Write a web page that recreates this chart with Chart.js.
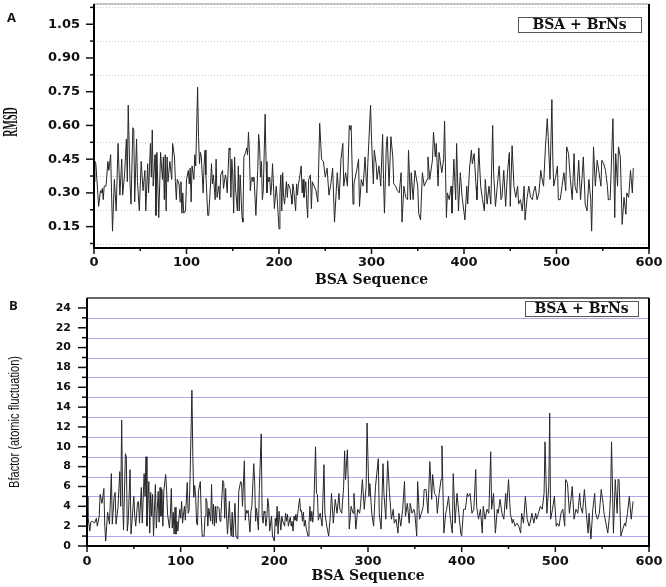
<!DOCTYPE html>
<html>
<head>
<meta charset="utf-8">
<script src="https://cdn.jsdelivr.net/npm/chart.js@4.4.0/dist/chart.umd.min.js"></script>
<style>
  body { margin: 0; background: #fff; width: 666px; height: 587px; position: relative; overflow: hidden; }
  canvas { position: absolute; left: 0; }
  #rmsd { top: 0; }
  #bfac { top: 290px; }
  .tag { position: absolute; z-index: 2; font: bold 13px "Open Sans", sans-serif; color: #111; line-height: 16px; }
</style>
</head>
<body>
<canvas id="rmsd" width="666" height="290"></canvas>
<canvas id="bfac" width="666" height="297"></canvas>
<div class="tag" style="left:7px;top:9px">A</div>
<div class="tag" style="left:9px;top:297px">B</div>
<script>
// values (residue number -> value)
const rmsdResidues = [
  0,1,2,5,7,8,9,10,11,13, 15,16,18,19,20,22,24,26,28,30,
  31,33,35,36,37,39,40,42,43,44, 46,47,49,51,53,55,56,58,59,61,
  62,63,64,66,67,68,70,72,74,75, 76,77,78,79,80,82,84,85,87,88,
  89,90,92,93,94,95,96,97,99,100, 102,103,104,105,106,108,109,110,112,113,
  114,115,116,118,119,120,121,123,124,126, 127,128,129,131,132,133,135,136,137,139,
  140,142,143,144,146,147,148,149,150,151, 152,153,155,156,157,158,160,161,162,164,
  165,166,167,168,169,170,171,172,173,175, 177,178,179,180,181,182,183,185,186,187,
  188,189,190,191,192,193,194,195,197,198, 200,201,202,203,204,205,206,207,208,209,
  210,212,213,214,215,216,218,219,220,221, 222,224,225,226,227,229,230,231,232,234,
  235,236,238,240,242,244,
  246,248,250,252,254,256,258,260,263,265, 267,269,270,272,274,276,277,278,280,281,
  284,286,287,289,291,293,295,296,299,300, 302,303,305,306,308,310,312,313,314,316,
  317,319,321,323,324,326,328,330,332,333, 335,337,339,340,342,343,345,347,350,351,
  353,355,357,360,361,363,366,367,369,370, 372,373,376,378,379,381,382,384,386,387,
  389,391,392,394,396,398,401,403,404,406, 408,409,411,413,414,416,418,420,422,423,
  425,427,429,431,432,434,436,438,440,441, 443,445,447,449,450,452,454,456,458,459,
  461,463,465,466,468,470,472,474,475,477, 479,481,483,484,486,488,490,491,493,495,
  496,497,499,501,502,504,506,508,510,511, 513,515,517,519,520,522,524,526,528,529,
  531,533,535,537,538,540,542,544,546,548, 549,551,553,555,556,558,561,563,564,566,
  567,569,571,573,575,576,578,580,582,583
];
const rmsdValues = [
  .35,.44,.43,.24,.31,.30,.32,.27,.33,.33, .44,.40,.47,.30,.13,.36,.22,.52,.29,.45,
  .29,.38,.54,.35,.69,.34,.25,.59,.58,.26, .54,.35,.22,.44,.31,.40,.22,.43,.30,.52,
  .37,.58,.33,.47,.20,.48,.19,.48,.36,.46, .27,.47,.22,.46,.35,.44,.36,.52,.46,.35,
  .27,.36,.34,.26,.35,.21,.30,.21,.22,.36, .40,.34,.41,.26,.42,.36,.47,.42,.77,.55,
  .43,.48,.46,.30,.42,.49,.38,.20,.20,.34, .43,.34,.38,.27,.45,.28,.33,.27,.38,.40,
  .32,.38,.36,.30,.50,.49,.28,.45,.38,.21, .46,.32,.22,.42,.22,.38,.19,.17,.46,.48,
  .50,.47,.57,.48,.31,.36,.37,.35,.37,.20, .40,.56,.51,.37,.44,.27,.31,.65,.44,.30,
  .37,.35,.37,.29,.33,.43,.34,.23,.33,.28, .14,.30,.38,.22,.39,.28,.25,.30,.35,.28,
  .34,.32,.29,.25,.34,.31,.22,.34,.29,.34, .36,.42,.30,.36,.28,.35,.25,.19,.36,.38,
  .23,.35,.33,.31,.26,.61,
  .45,.44,.37,.41,.29,.34,.41,.17,.39,.27, .45,.52,.33,.39,.33,.60,.58,.60,.25,.34,
  .40,.45,.24,.36,.33,.46,.30,.43,.69,.54, .34,.49,.43,.36,.42,.33,.56,.36,.21,.51,
  .55,.33,.55,.46,.34,.33,.31,.30,.39,.17, .33,.28,.27,.49,.27,.39,.27,.40,.33,.21,
  .18,.39,.33,.36,.46,.36,.45,.57,.46,.52, .33,.48,.39,.45,.62,.19,.30,.27,.33,.21,
  .45,.27,.52,.22,.39,.28,.18,.33,.25,.41, .49,.43,.475,.33,.27,.50,.33,.27,.22,.36,
  .25,.33,.25,.60,.39,.24,.33,.42,.27,.28, .40,.24,.39,.48,.24,.51,.33,.28,.33,.25,
  .27,.22,.33,.18,.27,.33,.28,.27,.30,.33, .27,.30,.40,.37,.33,.50,.63,.55,.36,.715,
  .45,.33,.37,.42,.27,.27,.33,.39,.31,.505, .475,.36,.27,.475,.33,.30,.445,.27,.39,.46,
  .25,.22,.36,.27,.13,.505,.33,.445,.39,.33, .445,.43,.40,.33,.27,.27,.63,.19,.475,.33,
  .505,.46,.16,.28,.205,.30,.28,.40,.30,.41
];

const bfResidues = [
  0,1,3,4,6,8,10,11,13,14, 16,18,19,20,22,24,26,27,29,30,
  31,33,35,36,37,38,39,41,42,43, 44,46,47,50,51,52,54,55,56,58,
  59,61,62,63,64,66,67,68,69,70, 71,73,74,76,77,78,79,80,81,82,
  84,85,86,88,89,90,91,92,93,94, 95,96,97,99,100,101,102,104,105,107,
  108,109,110,112,113,114,115,116,117,118, 119,121,122,123,125,126,127,128,129,130,
  132,133,134,135,136,137,138,139,141,142, 143,145,146,147,148,149,150,152,153,154,
  155,156,158,159,161,162,164,165,166,168, 169,170,171,172,174,175,176,178,179,180,
  181,183,184,186,187,188,189,190,191,192, 193,194,195,197,198,200,201,202,203,204,
  205,207,208,209,211,212,213,214,215,217, 218,219,220,221,222,223,224,225,227,228,
  229,230,231,232,233,234,236,237,238,239, 240,241,242,244,245,246,247,248,
  249,251,253,254,256,258,260,261,263,265, 267,269,270,272,274,275,276,278,279,280,
  282,284,285,287,289,291,292,294,296,298, 299,301,302,304,306,308,311,312,314,316,
  317,319,321,323,325,327,328,330,332,333, 335,337,339,340,342,344,345,347,349,350,
  352,353,355,357,359,360,362,364,366,368, 369,371,373,374,376,378,379,381,383,384,
  386,388,390,391,393,395,397,399,400,402, 404,406,407,409,411,413,415,416,418,420,
  422,423,425,427,429,431,432,434,436,438, 439,441,443,445,447,448,450,452,454,455,
  457,459,461,463,464,466,468,470,472,473, 475,477,479,480,482,484,486,488,489,491,
  493,494,495,497,499,501,502,504,506,508, 510,511,513,515,517,518,520,522,524,526,
  527,529,531,533,535,536,538,540,542,543, 545,547,549,551,552,554,556,558,559,560,
  562,564,566,567,568,570,572,574,575,577, 579,581,583
];
const bfValues = [
  5.0,3.0,1.5,2.4,2.5,2.3,2.8,2.0,3.0,5.2, 4.3,5.8,2.0,0.5,3.4,2.2,7.3,2.2,5.0,5.4,
  2.2,3.8,7.5,4.0,12.7,5.0,1.6,9.3,9.0,1.5, 2.5,7.7,1.2,5.0,3.0,2.0,4.4,4.5,2.3,5.9,
  2.3,7.3,5.0,9.0,2.0,6.5,1.3,5.4,3.0,5.2, 1.0,6.2,1.8,5.5,2.4,5.9,3.0,5.7,2.0,5.5,
  7.2,5.6,3.2,1.8,3.2,5.8,1.8,3.4,1.2,3.9, 1.2,2.5,1.5,3.7,2.8,4.5,2.3,4.0,2.6,6.4,
  3.3,3.6,6.7,15.7,9.0,4.9,6.1,5.0,2.3,2.1, 5.5,6.5,3.0,1.0,1.0,3.0,4.8,4.5,2.0,3.8,
  2.5,6.2,2.2,4.2,2.0,4.0,2.3,4.0,3.8,2.5, 3.2,6.6,6.4,2.8,5.8,3.0,1.2,4.5,2.0,1.0,
  3.4,0.9,4.3,1.0,0.7,5.5,6.5,6.4,4.0,8.6, 2.6,3.6,3.3,3.6,1.4,3.5,4.0,8.3,6.5,2.5,
  3.8,1.6,5.8,11.3,3.0,2.3,3.5,3.3,2.0,2.8, 4.8,4.0,1.5,3.0,1.0,0.5,2.8,2.0,4.0,1.2,
  3.5,1.6,3.0,2.5,2.0,3.3,2.5,3.2,2.0,2.9, 2.0,2.5,1.5,3.0,2.6,3.2,2.5,3.3,4.8,3.5,
  3.6,2.5,3.4,2.0,2.6,1.8,1.0,2.2,4.0,2.5, 3.5,2.4,3.5,10.0,5.3,5.2,2.6,3.0,
  3.3,2.0,8.2,3.3,2.0,1.0,3.3,5.3,2.3,4.7, 3.3,5.3,3.7,3.3,6.0,9.6,6.7,9.7,6.0,1.7,
  4.0,3.3,5.3,1.7,3.7,3.3,4.0,6.7,3.7,6.0, 12.4,5.0,6.3,3.3,2.0,6.0,8.8,3.3,1.7,8.3,
  5.3,2.7,8.6,5.3,2.7,3.7,2.3,2.7,1.3,3.3, 2.0,3.7,6.5,3.0,4.3,2.3,4.3,3.3,3.7,3.3,
  1.0,6.5,2.7,3.3,4.0,5.7,5.7,3.3,8.5,4.7, 7.2,5.3,5.0,3.3,5.3,6.7,10.1,1.3,3.3,3.7,
  5.0,2.7,1.3,7.3,2.3,5.3,3.3,1.3,1.0,3.7, 3.7,5.3,5.0,5.3,3.3,3.7,7.7,4.0,2.7,3.7,
  1.3,4.0,2.7,3.7,3.3,9.5,3.7,5.3,1.3,3.7, 3.3,4.7,3.3,2.7,5.3,3.7,6.7,3.3,2.3,2.7,
  2.0,2.3,2.0,1.3,3.3,2.3,5.0,2.7,2.0,2.3, 3.3,2.3,3.3,2.7,3.3,4.0,3.7,5.3,10.5,3.3,
  6.0,13.4,2.7,3.7,5.0,2.0,2.3,2.0,3.3,3.7, 2.0,6.7,6.3,3.3,5.0,6.0,2.7,3.7,3.3,5.3,
  4.0,3.3,5.7,3.3,1.3,3.3,0.7,3.7,5.3,3.3, 2.7,3.3,5.7,4.3,3.3,2.3,1.3,3.3,5.3,10.5,
  1.3,6.7,3.3,6.7,6.7,1.0,1.7,2.3,2.0,3.3, 5.0,2.7,4.5
];

const seqTicks = [0, 100, 200, 300, 400, 500, 600];
const seqMinor = [50, 150, 250, 350, 450, 550];
const rmsdTicks = [0.15, 0.30, 0.45, 0.60, 0.75, 0.90, 1.05];
const rmsdMinor = [0.075, 0.225, 0.375, 0.525, 0.675, 0.825, 0.975, 1.125];
const bfTicks = [0, 2, 4, 6, 8, 10, 12, 14, 16, 18, 20, 22, 24];
const bfMinor = [1, 3, 5, 7, 9, 11, 13, 15, 17, 19, 21, 23];
const seriesLabel = 'BSA + BrNs';

// grid lines, tick marks, frame, narrow y title and the boxed label
const framePlugin = {
  id: 'frame',
  beforeDatasetsDraw(chart, args, o) {
    const { ctx, chartArea: a, scales: { y } } = chart;
    ctx.save();
    ctx.strokeStyle = o.gridColor;
    ctx.lineWidth = 1;
    ctx.setLineDash(o.gridDash);
    o.grid.forEach(v => {
      const py = Math.round(y.getPixelForValue(v)) + 0.5;
      ctx.beginPath(); ctx.moveTo(a.left, py); ctx.lineTo(a.right, py); ctx.stroke();
    });
    ctx.restore();
  },
  afterDraw(chart, args, o) {
    const { ctx, chartArea: a, scales: { x, y } } = chart;
    ctx.save();
    ctx.strokeStyle = '#111';
    ctx.lineWidth = 1.5;
    const tick = (x1, y1, x2, y2) => { ctx.beginPath(); ctx.moveTo(x1, y1); ctx.lineTo(x2, y2); ctx.stroke(); };
    o.yMajor.forEach(v => { const p = y.getPixelForValue(v); tick(a.left - o.yMajorLen, p, a.left, p); });
    o.grid.forEach(v => { const p = y.getPixelForValue(v); tick(a.left - o.yMinorLen, p, a.left, p); });
    seqTicks.forEach(v => { const p = x.getPixelForValue(v); tick(p, a.bottom, p, a.bottom + 6); });
    seqMinor.forEach(v => { const p = x.getPixelForValue(v); tick(p, a.bottom, p, a.bottom + 3); });

    ctx.strokeStyle = o.topColor;
    ctx.lineWidth = o.topWidth;
    tick(a.left, a.top, a.right, a.top);
    ctx.strokeStyle = '#000';
    ctx.lineWidth = 2;
    ctx.beginPath();
    ctx.moveTo(a.left, a.top); ctx.lineTo(a.left, a.bottom);
    ctx.lineTo(a.right, a.bottom); ctx.lineTo(a.right, a.top);
    ctx.stroke();

    // y title, squeezed along its length like the original figure
    const t = o.title;
    ctx.save();
    ctx.translate(t.x, (a.top + a.bottom) / 2 + t.shift);
    ctx.rotate(-Math.PI / 2);
    ctx.scale(t.squeeze, 1);
    ctx.font = t.font;
    ctx.fillStyle = '#111';
    ctx.textAlign = 'center';
    ctx.textBaseline = 'middle';
    ctx.fillText(t.text, 0, 0);
    ctx.restore();

    // label box
    const b = o.box;
    const bx = a.right - b.right - b.w, by = a.top + b.top;
    ctx.fillStyle = '#fff';
    ctx.fillRect(bx, by, b.w, b.h);
    ctx.strokeStyle = '#555';
    ctx.lineWidth = 1;
    ctx.strokeRect(bx + 0.5, by + 0.5, b.w, b.h);
    ctx.fillStyle = '#111';
    ctx.font = 'bold 14px "DejaVu Serif", serif';
    ctx.textAlign = 'center';
    ctx.textBaseline = 'middle';
    ctx.fillText(chart.data.datasets[0].label, bx + b.w / 2, by + b.h / 2 + 1);
    ctx.restore();
  }
};

function makeChart(id, residues, values, c) {
  const tickFont = { family: 'DejaVu Sans', weight: 'bold', size: c.tickSize };
  return new Chart(document.getElementById(id), {
    type: 'line',
    data: {
      datasets: [{
        label: seriesLabel,
        data: residues.map((r, i) => ({ x: r, y: values[i] })),
        borderColor: '#262626',
        borderWidth: 1,
        pointRadius: 0,
        tension: 0
      }]
    },
    options: {
      responsive: false,
      animation: false,
      layout: { padding: { top: c.top, right: 17, left: 0, bottom: 0 } },
      plugins: {
        legend: { display: false },
        tooltip: { enabled: false },
        frame: c.frame
      },
      scales: {
        x: {
          type: 'linear', min: 0, max: 600,
          afterBuildTicks: s => { s.ticks = seqTicks.map(v => ({ value: v })); },
          afterFit: s => { s.height = c.xHeight; s.paddingLeft = 0; s.paddingRight = 0; },
          grid: { display: false, drawTicks: false },
          border: { display: false },
          ticks: { padding: c.xPad, color: '#111', maxRotation: 0, autoSkip: false,
                   font: { family: 'DejaVu Sans', weight: 'bold', size: 13 } },
          title: { display: true, text: 'BSA Sequence', color: '#111',
                   font: { family: 'DejaVu Serif', weight: 'bold', size: 14 },
                   padding: { bottom: c.xTitlePad, top: 0 } }
        },
        y: {
          min: c.min, max: c.max,
          afterBuildTicks: s => { s.ticks = c.ticks.map(v => ({ value: v })); },
          afterFit: s => { s.width = c.yWidth; s.paddingTop = 0; s.paddingBottom = 0; },
          grid: { display: false, drawTicks: false },
          border: { display: false },
          ticks: { padding: c.yPad, color: '#111', autoSkip: false, font: tickFont, callback: c.fmt }
        }
      }
    },
    plugins: [framePlugin]
  });
}

makeChart('rmsd', rmsdResidues, rmsdValues, {
  top: 4, min: 0.055, max: 1.14, ticks: rmsdTicks, fmt: v => v.toFixed(2),
  tickSize: 13, yWidth: 94, yPad: 14, xHeight: 42, xPad: 7, xTitlePad: 1,
  frame: { grid: rmsdMinor, gridColor: '#c6c8d8', gridDash: [1, 2], yMajor: rmsdTicks,
           yMajorLen: 8, yMinorLen: 4, topColor: '#888', topWidth: 1,
           title: { text: 'RMSD', x: 12, shift: -4, squeeze: 0.5, font: 'bold 20px "Liberation Serif", serif' },
           box: { right: 8, top: 13, w: 123, h: 15 } }
});

makeChart('bfac', bfResidues, bfValues, {
  top: 8, min: 0, max: 25, ticks: bfTicks, fmt: v => String(v),
  tickSize: 11, yWidth: 87, yPad: 16, xHeight: 41, xPad: 8, xTitlePad: 2,
  frame: { grid: bfMinor, gridColor: '#aaaaf0', gridDash: [], yMajor: bfTicks,
           yMajorLen: 9, yMinorLen: 5, topColor: '#333', topWidth: 1.5,
           title: { text: 'Bfactor (atomic fluctuation)', x: 15, shift: 0, squeeze: 0.74, font: '15px "Liberation Sans", sans-serif' },
           box: { right: 11, top: 3, w: 113, h: 15 } }
});
</script>
</body>
</html>
